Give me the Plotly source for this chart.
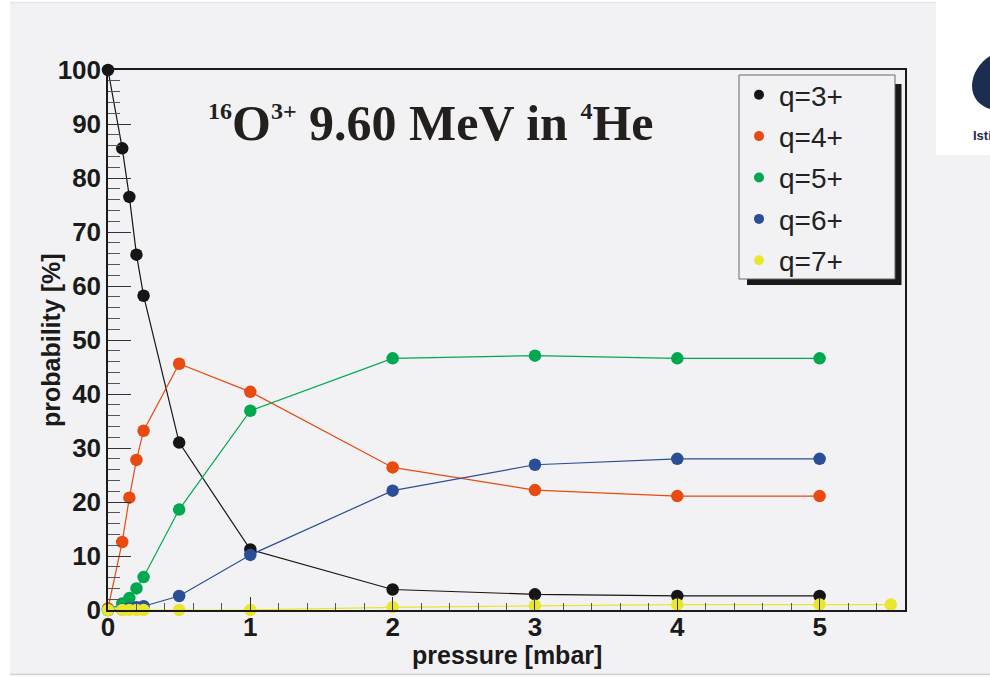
import plotly.graph_objects as go

# ---------------- data ----------------
pressure = [0, 0.1, 0.15, 0.2, 0.25, 0.5, 1, 2, 3, 4, 5]
q3 = [100, 85.5, 76.5, 65.8, 58.2, 31.0, 11.2, 3.8, 2.9, 2.6, 2.6]
q4 = [0.3, 12.6, 20.8, 27.8, 33.2, 45.6, 40.4, 26.4, 22.2, 21.1, 21.1]
q5 = [0, 1.2, 2.2, 4.0, 6.1, 18.6, 36.9, 46.6, 47.1, 46.6, 46.6]
q6 = [0, 0.1, 0.3, 0.5, 0.7, 2.6, 10.2, 22.1, 26.9, 28.0, 28.0]
pressure7 = [0, 0.1, 0.15, 0.2, 0.25, 0.5, 1, 2, 3, 4, 5, 5.5]
q7 = [0, 0, 0, 0, 0, 0, 0, 0.5, 0.8, 1.0, 1.0, 1.0]

series_names = ["q=3+", "q=4+", "q=5+", "q=6+", "q=7+"]
series_colors = ["#151515", "#e84a10", "#00a94f", "#2b4f96", "#e8e72e"]
series_x = [pressure, pressure, pressure, pressure, pressure7]
series_y = [q3, q4, q5, q6, q7]

x_title = "pressure [mbar]"
y_title = "probability [%]"

# ---------------- layout helpers ----------------
W, H = 990, 677
L, R, T, B = 108, 85, 70, 67
PW, PH = W - L - R, H - T - B


def px(x):
    return (x - L) / PW


def py(y):
    return (H - B - y) / PH


BG = "#f2f2f4"
FONT = "Liberation Sans"

fig = go.Figure()

for name, col, xs, ys in zip(series_names, series_colors, series_x, series_y):
    fig.add_trace(go.Scatter(
        x=xs, y=ys, mode="lines+markers", name=name, showlegend=False,
        line=dict(color=col, width=1.2),
        marker=dict(color=col, size=12.5),
        cliponaxis=False,
    ))

# legend entries (markers only)
for i, (name, col) in enumerate(zip(series_names, series_colors)):
    fig.add_trace(go.Scatter(
        x=[None], y=[None], mode="markers", name=name, legendgroup=f"g{i}",
        marker=dict(color=col, size=10),
    ))

shapes = []
# white page margins
for x0, y0, x1, y1 in [(0, 0, 10, H), (0, 0, W, 2), (0, 675, W, H), (936, 0, W, 155)]:
    shapes.append(dict(type="rect", xref="paper", yref="paper",
                       x0=px(x0), x1=px(x1), y0=py(y1), y1=py(y0),
                       fillcolor="white", line=dict(width=0), layer="below"))
shapes.append(dict(type="line", xref="paper", yref="paper",
                   x0=px(10), x1=px(W), y0=py(674.5), y1=py(674.5),
                   line=dict(color="#d0d0d0", width=1.5)))
shapes.append(dict(type="line", xref="paper", yref="paper",
                   x0=px(10), x1=px(936), y0=py(2.5), y1=py(2.5),
                   line=dict(color="#e6e6e6", width=1.5)))
# logo blob (partial)
path = (f"M {px(990)},{py(56)} C {px(980)},{py(62)} {px(972)},{py(74)} {px(972)},{py(86)} "
        f"C {px(972)},{py(98)} {px(980)},{py(106)} {px(990)},{py(109)} Z")
shapes.append(dict(type="path", xref="paper", yref="paper", path=path,
                   fillcolor="#1b2d50", line=dict(width=0)))
# legend shadow and box
shapes.append(dict(type="rect", xref="paper", yref="paper",
                   x0=px(747), x1=px(901.5), y0=py(285), y1=py(84),
                   fillcolor="#1a1a1a", line=dict(width=0), layer="above"))
shapes.append(dict(type="rect", xref="paper", yref="paper",
                   x0=px(739), x1=px(895), y0=py(279), y1=py(75),
                   fillcolor=BG, line=dict(color="#666666", width=1), layer="above"))

annotations = [
    dict(xref="paper", yref="paper", x=px(430), y=py(123), xanchor="center", yanchor="middle",
         showarrow=False,
         text=('<b><sup><span style="font-size:24px">16</span></sup>O'
               '<sup><span style="font-size:24px">3+</span></sup> 9.60 MeV in '
               '<sup><span style="font-size:24px">4</span></sup>He</b>'),
         font=dict(family="Liberation Serif", size=50, color="#231f1c")),
    dict(xref="paper", yref="paper", x=px(971), y=py(135), xanchor="left", yanchor="middle",
         showarrow=False, text="<b>Isti</b>",
         font=dict(family=FONT, size=13, color="#1b2d50")),
    dict(xref="paper", yref="paper", x=px(51), y=py(340), xanchor="center", yanchor="middle",
         showarrow=False, textangle=-90, text=f"<b>{y_title}</b>",
         font=dict(family=FONT, size=25, color="#1a1a1a")),
    dict(xref="paper", yref="paper", x=px(507), y=py(655), xanchor="center", yanchor="middle",
         showarrow=False, text=f"<b>{x_title}</b>",
         font=dict(family=FONT, size=25, color="#1a1a1a")),
]

fig.update_layout(
    width=W, height=H,
    margin=dict(l=L, r=R, t=T, b=B, pad=0, autoexpand=False),
    paper_bgcolor=BG, plot_bgcolor=BG,
    shapes=shapes, annotations=annotations,
    showlegend=True,
    legend=dict(x=px(739), y=py(70), xanchor="left", yanchor="top",
                bgcolor="rgba(0,0,0,0)", borderwidth=0,
                font=dict(family=FONT, size=28, color="#222222"),
                tracegroupgap=2, itemsizing="trace"),
    font=dict(family=FONT, color="#1a1a1a"),
)

fig.update_xaxes(
    range=[0, 5.6], showgrid=False, zeroline=False, automargin=False,
    showline=True, linecolor="#1a1a1a", linewidth=1.5, mirror=True,
    ticks="inside", ticklen=13, tickwidth=1, tickcolor="#333333",
    dtick=1, tick0=0, ticklabelstandoff=-7,
    minor=dict(dtick=0.2, ticks="inside", ticklen=7, tickcolor="#555555", tickwidth=1),
    tickfont=dict(family=FONT, size=26, color="#1a1a1a"),
    tickprefix="<b>", ticksuffix="</b>",
)
fig.update_yaxes(
    range=[0, 100], showgrid=False, zeroline=False, automargin=False,
    showline=True, linecolor="#1a1a1a", linewidth=1.5, mirror=True,
    ticks="inside", ticklen=23, tickwidth=1, tickcolor="#333333",
    dtick=10, tick0=0,
    minor=dict(dtick=2, ticks="inside", ticklen=12, tickcolor="#555555", tickwidth=1),
    tickfont=dict(family=FONT, size=26, color="#1a1a1a"),
    tickprefix="<b>", ticksuffix="</b>",
)

fig.write_html("out.html")
